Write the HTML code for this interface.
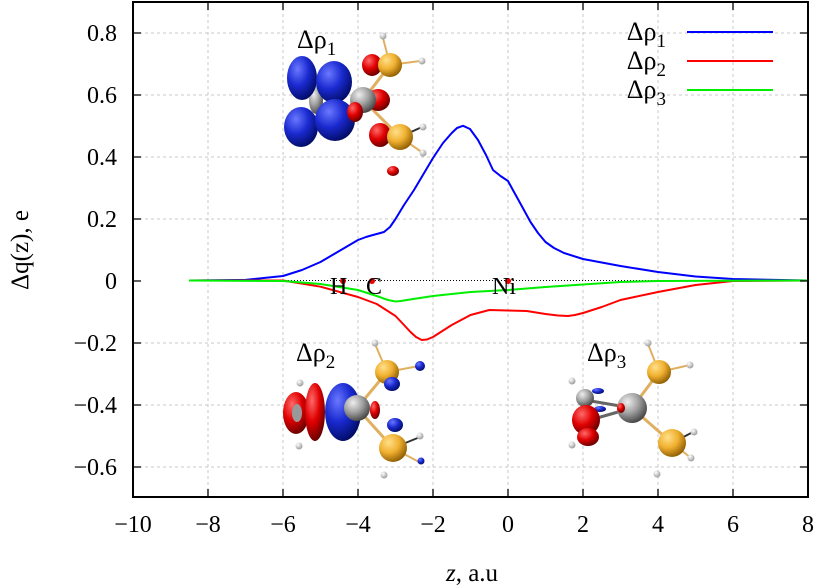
<!DOCTYPE html>
<html><head><meta charset="utf-8"><style>
html,body{margin:0;padding:0;background:#fff;}
svg{display:block;font-family:"Liberation Serif","DejaVu Serif",serif;}
</style></head><body>
<svg width="820" height="587" viewBox="0 0 820 587" xmlns="http://www.w3.org/2000/svg">
<defs>
<radialGradient id="gb" cx="35%" cy="30%" r="75%"><stop offset="0" stop-color="#6a78ff"/><stop offset="0.5" stop-color="#1a2ad0"/><stop offset="1" stop-color="#000a60"/></radialGradient>
<radialGradient id="gr" cx="35%" cy="30%" r="75%"><stop offset="0" stop-color="#ff6a6a"/><stop offset="0.5" stop-color="#e00000"/><stop offset="1" stop-color="#600000"/></radialGradient>
<radialGradient id="go" cx="35%" cy="30%" r="75%"><stop offset="0" stop-color="#ffe08a"/><stop offset="0.5" stop-color="#f0b030"/><stop offset="1" stop-color="#8a5a00"/></radialGradient>
<radialGradient id="gg" cx="35%" cy="30%" r="75%"><stop offset="0" stop-color="#eee"/><stop offset="0.5" stop-color="#a0a0a0"/><stop offset="1" stop-color="#404040"/></radialGradient>
<radialGradient id="gw" cx="35%" cy="30%" r="75%"><stop offset="0" stop-color="#fff"/><stop offset="1" stop-color="#999"/></radialGradient>
</defs>
<g stroke="#c8c8c8" stroke-width="1" stroke-dasharray="3,3">
<line x1="208" y1="2" x2="208" y2="497"/><line x1="283" y1="2" x2="283" y2="497"/><line x1="358" y1="2" x2="358" y2="497"/><line x1="433" y1="2" x2="433" y2="497"/><line x1="508" y1="2" x2="508" y2="497"/><line x1="583" y1="2" x2="583" y2="497"/><line x1="658" y1="2" x2="658" y2="497"/><line x1="733" y1="2" x2="733" y2="497"/>
<line x1="133" y1="33" x2="808" y2="33"/><line x1="133" y1="95" x2="808" y2="95"/><line x1="133" y1="157" x2="808" y2="157"/><line x1="133" y1="219" x2="808" y2="219"/><line x1="133" y1="343" x2="808" y2="343"/><line x1="133" y1="405" x2="808" y2="405"/><line x1="133" y1="467" x2="808" y2="467"/>
</g>
<line x1="189" y1="280.5" x2="808" y2="280.5" stroke="#000" stroke-width="1" stroke-dasharray="1,2"/>
<g>
<line x1="363" y1="100" x2="390" y2="65" stroke="#e0b060" stroke-width="3"/><line x1="363" y1="100" x2="400" y2="137" stroke="#e0b060" stroke-width="3"/>
<line x1="390" y1="65" x2="383" y2="38" stroke="#e0b060" stroke-width="2"/><line x1="390" y1="65" x2="420" y2="61" stroke="#e0b060" stroke-width="2"/>
<line x1="400" y1="137" x2="422" y2="127" stroke="#333" stroke-width="2"/><line x1="400" y1="137" x2="423" y2="153" stroke="#e0b060" stroke-width="2"/>
<ellipse cx="316" cy="100" rx="7" ry="14" fill="url(#gg)"/>
<ellipse cx="302" cy="78" rx="15" ry="22" fill="url(#gb)"/>
<ellipse cx="334" cy="82" rx="18" ry="21" fill="url(#gb)"/>
<ellipse cx="301" cy="127" rx="17" ry="20" fill="url(#gb)"/>
<ellipse cx="335" cy="120" rx="20" ry="21" fill="url(#gb)"/>
<ellipse cx="372" cy="65" rx="10" ry="11" fill="url(#gr)"/>
<ellipse cx="378" cy="100" rx="12" ry="11" fill="url(#gr)"/>
<circle cx="363" cy="100" r="13" fill="url(#gg)"/>
<ellipse cx="355" cy="112" rx="8" ry="10" fill="url(#gr)"/>
<ellipse cx="380" cy="135" rx="11" ry="12" fill="url(#gr)"/>
<circle cx="390" cy="65" r="12" fill="url(#go)"/>
<circle cx="400" cy="137" r="13" fill="url(#go)"/>
<circle cx="383" cy="36" r="3.5" fill="url(#gw)"/><circle cx="422" cy="61" r="3.5" fill="url(#gw)"/><circle cx="423" cy="127" r="3.5" fill="url(#gw)"/><circle cx="423" cy="153" r="3.5" fill="url(#gw)"/>
<ellipse cx="393" cy="171" rx="6" ry="5" fill="url(#gr)"/>
</g>
<g>
<line x1="357" y1="408" x2="387" y2="372" stroke="#e0b060" stroke-width="3"/><line x1="357" y1="408" x2="393" y2="448" stroke="#e0b060" stroke-width="3"/>
<line x1="387" y1="372" x2="375" y2="344" stroke="#e0b060" stroke-width="2"/><line x1="387" y1="372" x2="419" y2="366" stroke="#e0b060" stroke-width="2"/>
<line x1="393" y1="448" x2="420" y2="437" stroke="#333" stroke-width="2"/><line x1="393" y1="448" x2="419" y2="462" stroke="#e0b060" stroke-width="2"/>
<ellipse cx="296" cy="413" rx="13" ry="21" fill="url(#gr)"/><ellipse cx="297" cy="413" rx="5" ry="9" fill="#999"/>
<ellipse cx="315" cy="412" rx="10" ry="29" fill="url(#gr)"/>
<ellipse cx="343" cy="412" rx="18" ry="29" fill="url(#gb)"/>
<ellipse cx="375" cy="410" rx="5" ry="9" fill="url(#gr)"/>
<circle cx="357" cy="408" r="13" fill="url(#gg)"/>
<circle cx="387" cy="372" r="12" fill="url(#go)"/>
<ellipse cx="392" cy="384" rx="8" ry="7" fill="url(#gb)"/>
<ellipse cx="395" cy="425" rx="8" ry="7" fill="url(#gb)"/>
<circle cx="393" cy="448" r="14" fill="url(#go)"/>
<circle cx="420" cy="366" r="5" fill="url(#gb)"/><circle cx="421" cy="461" r="3.5" fill="url(#gb)"/>
<circle cx="375" cy="343" r="3.5" fill="url(#gw)"/><circle cx="300" cy="383" r="3.5" fill="url(#gw)"/><circle cx="299" cy="446" r="3.5" fill="url(#gw)"/><circle cx="420" cy="436" r="3.5" fill="url(#gw)"/><circle cx="384" cy="475" r="3.5" fill="url(#gw)"/>
</g>
<g>
<line x1="632" y1="408" x2="659" y2="372" stroke="#e0b060" stroke-width="3"/><line x1="632" y1="408" x2="672" y2="443" stroke="#e0b060" stroke-width="3"/>
<line x1="659" y1="372" x2="648" y2="344" stroke="#e0b060" stroke-width="2"/><line x1="659" y1="372" x2="690" y2="365" stroke="#e0b060" stroke-width="2"/>
<line x1="672" y1="443" x2="693" y2="432" stroke="#333" stroke-width="2"/><line x1="672" y1="443" x2="691" y2="458" stroke="#e0b060" stroke-width="2"/>
<line x1="585" y1="400" x2="632" y2="408" stroke="#666" stroke-width="3"/><line x1="590" y1="420" x2="632" y2="408" stroke="#666" stroke-width="3"/>
<circle cx="585" cy="398" r="9" fill="url(#gg)"/>
<ellipse cx="598" cy="391" rx="6" ry="3" fill="url(#gb)"/><ellipse cx="600" cy="409" rx="6" ry="3" fill="url(#gb)"/>
<ellipse cx="586" cy="420" rx="14" ry="15" fill="url(#gr)"/>
<ellipse cx="588" cy="437" rx="11" ry="9" fill="url(#gr)"/>
<circle cx="632" cy="408" r="15" fill="url(#gg)"/>
<ellipse cx="621" cy="408" rx="4" ry="5" fill="url(#gr)"/>
<circle cx="659" cy="372" r="12" fill="url(#go)"/>
<circle cx="672" cy="443" r="14" fill="url(#go)"/>
<circle cx="648" cy="343" r="3.5" fill="url(#gw)"/><circle cx="690" cy="365" r="3.5" fill="url(#gw)"/><circle cx="694" cy="432" r="3.5" fill="url(#gw)"/><circle cx="691" cy="458" r="3.5" fill="url(#gw)"/><circle cx="657" cy="474" r="3.5" fill="url(#gw)"/><circle cx="572" cy="381" r="3.5" fill="url(#gw)"/><circle cx="572" cy="445" r="3.5" fill="url(#gw)"/>
</g>
<polyline fill="none" stroke="#0000ff" stroke-width="2" stroke-linejoin="round" points="189,280.5 245.5,279.9 283,276 302,270 320.5,262 339.25,251 358,240 366,237 373,235 384,232 390,227 395.5,219 404,205 414,190 433,158 443,143 451.75,133 457,128 463,125.8 470,129 478,140 486,155 493,170 500.5,176 508,181 514,192 519,201 530.5,222 538,233 545.5,242 554,248 564,253 583,259 620.5,266 658,272 695.5,276.5 733,279 808,280.5"/>
<polyline fill="none" stroke="#ff0000" stroke-width="2" stroke-linejoin="round" points="189,280.5 283,280.5 320.5,286.7 358,297 376.75,304 395.5,316 404,325 410.5,332 416,337 421.75,340 427,339.5 433,337 451.75,325 470.5,315 489.25,310 508,310.5 526.75,311 545.5,314 558,315.5 568,316 575,315 583,313 601.75,307 620.5,300 658,292 695.5,285 733,281 808,280.5"/>
<polyline fill="none" stroke="#00ee00" stroke-width="2" stroke-linejoin="round" points="189,280.5 283,281 320.5,284 358,290 376.75,296 388,300 395.5,301.5 401,301 406.75,300 433,296 470.5,292 508,290 545.5,287 583,284.5 620.5,282 658,281 808,280.5"/>
<circle cx="343" cy="281" r="3" fill="#e00"/><circle cx="372" cy="281" r="3" fill="#e00"/><circle cx="508" cy="281" r="3" fill="#e00"/>
<g font-size="24" fill="#000">
<text x="330" y="294">H</text><text x="366" y="294">C</text><text x="492" y="294">Ni</text>
<text x="297" y="48" font-size="26">Δρ<tspan font-size="19" dy="7">1</tspan></text>
<text x="296" y="361" font-size="26">Δρ<tspan font-size="19" dy="7">2</tspan></text>
<text x="587" y="361" font-size="26">Δρ<tspan font-size="19" dy="7">3</tspan></text>
</g>
<rect x="133" y="2" width="675" height="495" fill="none" stroke="#000" stroke-width="2"/>
<g stroke="#000" stroke-width="1.3">
<path d="M208,497v-8M283,497v-8M358,497v-8M433,497v-8M508,497v-8M583,497v-8M658,497v-8M733,497v-8M208,2v8M283,2v8M358,2v8M433,2v8M508,2v8M583,2v8M658,2v8M733,2v8"/>
<path d="M133,33h8M133,95h8M133,157h8M133,219h8M133,281h8M133,343h8M133,405h8M133,467h8M808,33h-8M808,95h-8M808,157h-8M808,219h-8M808,281h-8M808,343h-8M808,405h-8M808,467h-8"/>
</g>
<g font-size="26" text-anchor="end">
<text x="666" y="40">Δρ<tspan font-size="19" dy="7">1</tspan></text>
<text x="666" y="69">Δρ<tspan font-size="19" dy="7">2</tspan></text>
<text x="666" y="98">Δρ<tspan font-size="19" dy="7">3</tspan></text>
</g>
<line x1="687" y1="32" x2="773" y2="32" stroke="#0000ff" stroke-width="2"/>
<line x1="687" y1="61" x2="773" y2="61" stroke="#ff0000" stroke-width="2"/>
<line x1="687" y1="90" x2="773" y2="90" stroke="#00ee00" stroke-width="2"/>
<g font-size="24" text-anchor="end">
<text x="117" y="41">0.8</text><text x="117" y="103">0.6</text><text x="117" y="165">0.4</text><text x="117" y="227">0.2</text><text x="117" y="289">0</text><text x="117" y="351">−0.2</text><text x="117" y="413">−0.4</text><text x="117" y="475">−0.6</text>
</g>
<g font-size="24" text-anchor="middle">
<text x="133" y="532">−10</text><text x="208" y="532">−8</text><text x="283" y="532">−6</text><text x="358" y="532">−4</text><text x="433" y="532">−2</text><text x="508" y="532">0</text><text x="583" y="532">2</text><text x="658" y="532">4</text><text x="733" y="532">6</text><text x="808" y="532">8</text>
</g>
<text x="472" y="581" font-size="25" text-anchor="middle"><tspan font-style="italic">z</tspan>, a.u</text>
<text transform="translate(28,250) rotate(-90)" font-size="25" text-anchor="middle">Δq(z), e</text>
</svg>
</body></html>
